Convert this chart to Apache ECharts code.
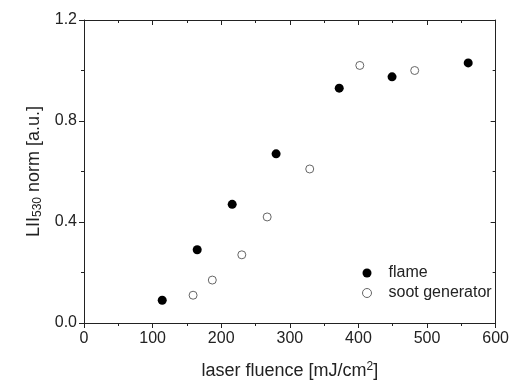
<!DOCTYPE html>
<html lang="en">
<head>
    <meta charset="utf-8" />
    <title>LII vs laser fluence</title>
    <style>
        html, body { margin: 0; padding: 0; background: #fff; }
        #main { width: 512px; height: 389px; }
    </style>
</head>
<body>
    <div id="main"></div>
    <script src="https://cdn.jsdelivr.net/npm/echarts@6/dist/echarts.min.js"></script>
    <script>
    // 数据 - flame
    var flameX = [114, 165, 216, 280, 372, 449, 560];
    var flameY = [0.09, 0.29, 0.47, 0.67, 0.93, 0.975, 1.03];
    // 数据 - soot generator
    var sootX = [159, 187, 230, 267, 329, 402, 482];
    var sootY = [0.11, 0.17, 0.27, 0.42, 0.61, 1.02, 1.0];

    var font = "Liberation Sans, Arial, sans-serif";
    var axisColor = "#222";

    function pairs(xs, ys) {
      var out = [];
      for (var i = 0; i < xs.length; i++) {
        out.push([xs[i], ys[i]]);
      }
      return out;
    }

    // 坐标轴公共样式
    function axisBase(inside) {
      return {
        axisLine: { show: true, onZero: false, lineStyle: { color: axisColor, width: 1 } },
        axisTick: { show: true, inside: inside, length: 5, lineStyle: { color: axisColor } },
        minorTick: { show: true, splitNumber: 2, length: 3, lineStyle: { color: axisColor } },
        splitLine: { show: false }
      };
    }

    var xBottom = Object.assign(axisBase(false), {
        type: "value", min: 0, max: 600, interval: 100, position: "bottom",
        name: "{a|laser fluence [mJ/cm}{s|2}{a|]}",
        nameLocation: "middle",
        nameGap: 38,
        nameTextStyle: {
            rich: {
                a: { fontFamily: font, fontSize: 18, color: "#222" },
                s: { fontFamily: font, fontSize: 12, color: "#222", verticalAlign: "top", padding: [0, 0, 8, 0] }
            }
        },
        axisLabel: { fontFamily: font, fontSize: 16, color: "#222", margin: 8 }
    });
    var xTop = Object.assign(axisBase(true), {
        type: "value", min: 0, max: 600, interval: 100, position: "top",
        axisLabel: { show: false }
    });
    var yLeft = Object.assign(axisBase(false), {
        type: "value", min: 0, max: 1.2, interval: 0.4, position: "left",
        name: "{a|LII}{s|530}{a| norm [a.u.]}",
        nameLocation: "middle",
        nameGap: 40,
        nameTextStyle: {
            rich: {
                a: { fontFamily: font, fontSize: 18, color: "#222" },
                s: { fontFamily: font, fontSize: 12, color: "#222", verticalAlign: "bottom", padding: [8, 0, 0, 0] }
            }
        },
        axisLabel: {
            fontFamily: font, fontSize: 16, color: "#222", margin: 7,
            formatter: function(v) { return v.toFixed(1); }
        }
    });
    var yRight = Object.assign(axisBase(true), {
        type: "value", min: 0, max: 1.2, interval: 0.4, position: "right",
        axisLabel: { show: false }
    });

    var myChart = echarts.init(document.getElementById("main"));
    var option = {
        animation: false,
        backgroundColor: "#fff",
        grid: { left: 84, right: 14, top: 20, bottom: 66 },
        legend: {
            orient: "vertical",
            left: 357,
            top: 260,
            itemWidth: 9,
            itemHeight: 9,
            itemGap: 4,
            textStyle: {
                fontFamily: font,
                fontSize: 16,
                color: "#222",
                padding: [0, 0, 0, 12]
            },
            data: [
                { name: "flame", itemStyle: { color: "#000" } },
                { name: "soot generator", itemStyle: { color: "#fff", borderColor: "#666", borderWidth: 1 } }
            ]
        },
        xAxis: [xBottom, xTop],
        yAxis: [yLeft, yRight],
        series: [{
            name: "flame",
            type: "scatter",
            symbol: "circle",
            symbolSize: 9,
            itemStyle: { color: "#000", opacity: 1 },
            data: pairs(flameX, flameY)
        }, {
            name: "soot generator",
            type: "scatter",
            symbol: "circle",
            symbolSize: 8,
            itemStyle: { color: "#fff", borderColor: "#666", borderWidth: 1, opacity: 1 },
            data: pairs(sootX, sootY)
        }]
    };
    myChart.setOption(option);
    </script>
</body>
</html>
